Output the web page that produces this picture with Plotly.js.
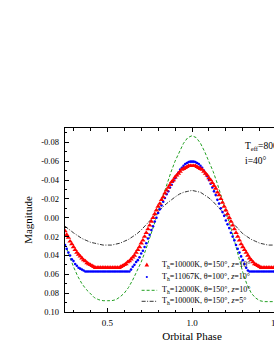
<!DOCTYPE html>
<html><head><meta charset="utf-8">
<script src="https://cdn.plot.ly/plotly-3.0.1.min.js"></script>
<style>html,body{margin:0;padding:0;overflow:hidden;background:#fff;}#c{width:330px;height:354px;}</style>
</head><body><div id="c"></div>
<script>
// ---- data ----
const phaseDense = [0.25,0.26,0.27,0.28,0.29,0.30,0.31,0.32,0.33,0.34,0.35,0.36,0.37,0.38,0.39,0.40,0.41,0.42,0.43,0.44,0.45,0.46,0.47,0.48,0.49,0.50,0.51,0.52,0.53,0.54,0.55,0.56,0.57,0.58,0.59,0.60,0.61,0.62,0.63,0.64,0.65,0.66,0.67,0.68,0.69,0.70,0.71,0.72,0.73,0.74,0.75,0.76,0.77,0.78,0.79,0.80,0.81,0.82,0.83,0.84,0.85,0.86,0.87,0.88,0.89,0.90,0.91,0.92,0.93,0.94,0.95,0.96,0.97,0.98,0.99,1.00,1.01,1.02,1.03,1.04,1.05,1.06,1.07,1.08,1.09,1.10,1.11,1.12,1.13,1.14,1.15,1.16,1.17,1.18,1.19,1.20,1.21,1.22,1.23,1.24,1.25,1.26,1.27,1.28,1.29,1.30,1.31,1.32,1.33,1.34,1.35,1.36,1.37,1.38,1.39,1.40,1.41,1.42,1.43,1.44,1.45,1.46,1.47,1.48,1.49,1.50];
const magRed = [0.014,0.018,0.021,0.025,0.028,0.031,0.034,0.037,0.039,0.041,
0.043,0.045,0.046,0.048,0.049,0.050,0.051,0.052,0.053,0.053,
0.053,0.053,0.053,0.053,0.053,0.053,0.053,0.053,0.053,0.053,
0.053,0.053,0.053,0.052,0.051,0.050,0.049,0.047,0.046,0.044,
0.042,0.040,0.037,0.034,0.031,0.027,0.024,0.020,0.016,0.012,
0.008,0.004,0.000,-0.004,-0.008,-0.012,-0.015,-0.019,-0.022,-0.026,
-0.029,-0.032,-0.035,-0.038,-0.040,-0.043,-0.045,-0.047,-0.049,-0.051,
-0.052,-0.053,-0.054,-0.055,-0.055,-0.055,-0.055,-0.055,-0.054,-0.053,
-0.052,-0.051,-0.049,-0.047,-0.045,-0.042,-0.040,-0.037,-0.034,-0.031,
-0.027,-0.024,-0.020,-0.016,-0.012,-0.008,-0.004,0.000,0.004,0.008,
0.012,0.016,0.020,0.024,0.028,0.031,0.034,0.037,0.040,0.043,
0.045,0.047,0.049,0.050,0.051,0.052,0.053,0.053,0.053,0.053,
0.053,0.053,0.053,0.053,0.053,0.053];
const magBlue = [0.029,0.033,0.037,0.040,0.044,0.046,0.049,0.051,0.053,0.054,
0.055,0.056,0.057,0.057,0.057,0.057,0.057,0.057,0.057,0.057,
0.057,0.057,0.057,0.057,0.057,0.057,0.057,0.057,0.057,0.057,
0.057,0.057,0.057,0.057,0.057,0.057,0.057,0.057,0.057,0.055,
0.052,0.050,0.047,0.045,0.042,0.038,0.035,0.031,0.027,0.022,
0.018,0.013,0.009,0.004,0.000,-0.005,-0.009,-0.013,-0.017,-0.021,
-0.025,-0.028,-0.032,-0.035,-0.039,-0.042,-0.045,-0.048,-0.051,-0.053,
-0.055,-0.057,-0.058,-0.059,-0.0595,-0.0595,-0.0595,-0.059,-0.058,-0.057,
-0.055,-0.053,-0.050,-0.047,-0.044,-0.040,-0.036,-0.032,-0.028,-0.024,
-0.019,-0.015,-0.010,-0.006,-0.002,0.003,0.007,0.011,0.016,0.020,
0.024,0.029,0.033,0.037,0.041,0.045,0.049,0.053,0.056,0.057,
0.057,0.057,0.057,0.057,0.057,0.057,0.057,0.057,0.057,0.057,
0.057,0.057,0.057,0.057,0.057,0.057];
const phaseLine = [0.25,0.275,0.30,0.325,0.35,0.375,0.40,0.425,0.45,0.475,0.50,0.525,0.55,0.575,0.60,0.625,0.65,0.675,0.70,0.725,0.75,0.775,0.80,0.825,0.85,0.875,0.90,0.925,0.95,0.975,1.00,1.025,1.05,1.075,1.10,1.125,1.15,1.175,1.20,1.225,1.25,1.275,1.30,1.325,1.35,1.375,1.40,1.425,1.45,1.475,1.50];
const magGreen = [0.028,0.041,0.052,0.062,0.070,0.076,0.081,0.085,0.087,0.088,
0.088,0.088,0.087,0.084,0.080,0.074,0.066,0.057,0.047,0.035,
0.022,0.008,-0.007,-0.021,-0.035,-0.048,-0.060,-0.070,-0.079,-0.085,
-0.087,-0.085,-0.079,-0.070,-0.060,-0.049,-0.036,-0.022,-0.007,0.008,
0.024,0.042,0.058,0.071,0.080,0.085,0.088,0.089,0.089,0.089,
0.089];
const magBlack = [0.009,0.013,0.016,0.019,0.022,0.024,0.026,0.027,0.028,0.029,
0.029,0.029,0.028,0.027,0.025,0.023,0.020,0.017,0.013,0.008,
0.003,-0.002,-0.006,-0.011,-0.015,-0.019,-0.022,-0.025,-0.027,-0.028,
-0.029,-0.028,-0.027,-0.024,-0.021,-0.017,-0.012,-0.007,-0.002,0.003,
0.008,0.013,0.017,0.020,0.023,0.025,0.027,0.028,0.029,0.029,
0.029];
const seriesNames = [
  "T<sub>h</sub>=10000K, θ=150°, <i>z</i>=10°",
  "T<sub>h</sub>=11067K, θ=100°, <i>z</i>=10°",
  "T<sub>h</sub>=12000K, θ=150°, <i>z</i>=10°",
  "T<sub>h</sub>=10000K, θ=150°, <i>z</i>=5°"
];
const xTickVals = [0.5, 1.0, 1.5];
const xTickText = ["0.5", "1.0", "1.5"];
const yTickVals = [-0.08,-0.06,-0.04,-0.02,0,0.02,0.04,0.06,0.08,0.10];
const yTickText = ["-0.08","-0.06","-0.04","-0.02","0.00","0.02","0.04","0.06","0.08","0.10"];
const noteLines = ["T<sub>eff</sub>=8000K", "i=40°"];

// ---- chart ----
const F = "Liberation Serif, Times New Roman, serif";
const GREEN = "#22a022";
const traces = [
  {x: phaseLine, y: magGreen, mode: "lines", name: seriesNames[2],
   line: {color: GREEN, width: 1, dash: "3px,2px"}},
  {x: phaseLine, y: magBlack, mode: "lines", name: seriesNames[3],
   line: {color: "#000000", width: 0.8, dash: "4px,1.5px,1px,1.5px"}},
  {x: phaseDense, y: magBlue, mode: "markers", name: seriesNames[1],
   marker: {symbol: "circle", size: 2.6, color: "#0000ff"}},
  {x: phaseDense, y: magRed, mode: "markers", name: seriesNames[0],
   marker: {symbol: "triangle-up", size: 4.8, color: "#ff0000"}}
];

const L = 65, R = 318.6, T = 128, B = 312;
const px = v => (v - L) / (R - L);
const py = v => (B - v) / (B - T);

const legRows = [264.7, 277, 290.3, 301.3];
const annotations = [];
const shapes = [];
const legendStyles = [
  {kind: "tri", color: "#ff0000"},
  {kind: "dot", color: "#0000ff"},
  {kind: "line", color: GREEN, dash: "3px,2px", width: 1},
  {kind: "line", color: "#000000", dash: "4px,1.5px,1px,1.5px", width: 0.8}
];
legRows.forEach((ry, i) => {
  annotations.push({xref: "paper", yref: "paper", x: px(160), y: py(ry), xanchor: "left", yanchor: "middle",
    text: seriesNames[i], showarrow: false, font: {family: F, size: 8, color: "#000"}});
  const st = legendStyles[i];
  if (st.kind === "line") {
    shapes.push({type: "line", xref: "paper", yref: "paper", x0: px(141.5), x1: px(157), y0: py(ry), y1: py(ry),
      line: {color: st.color, width: st.width, dash: st.dash}});
  } else if (st.kind === "tri") {
    shapes.push({type: "path", xref: "paper", yref: "paper",
      path: `M${px(144.4)},${py(ry + 1.9)} L${px(149)},${py(ry + 1.9)} L${px(146.7)},${py(ry - 2.1)} Z`,
      fillcolor: st.color, line: {width: 0}});
  } else {
    shapes.push({type: "circle", xref: "paper", yref: "paper", x0: px(145.6), x1: px(147.8), y0: py(ry + 1.1), y1: py(ry - 1.1),
      fillcolor: st.color, line: {width: 0}});
  }
});
annotations.push({xref: "paper", yref: "paper", x: px(243), y: py(146), xanchor: "left", yanchor: "middle",
  text: noteLines[0], showarrow: false, font: {family: F, size: 9.5, color: "#000"}});
annotations.push({xref: "paper", yref: "paper", x: px(243), y: py(161), xanchor: "left", yanchor: "middle",
  text: noteLines[1], showarrow: false, font: {family: F, size: 9.5, color: "#000"}});

const layout = {
  width: 330, height: 354,
  margin: {l: L, r: 330 - R, t: T, b: 354 - B, pad: 0},
  paper_bgcolor: "#fff", plot_bgcolor: "#fff",
  showlegend: false,
  font: {family: F, color: "#000"},
  xaxis: {
    range: [0.25, 1.75], tickvals: xTickVals, ticktext: xTickText,
    ticks: "inside", ticklen: 4, tickwidth: 1, tickcolor: "#000",
    minor: {ticks: "inside", tickmode: "linear", tick0: 0, dtick: 0.1, ticklen: 2.5, tickwidth: 1, tickcolor: "#000"},
    showline: true, linewidth: 1.3, linecolor: "#000", mirror: "ticks",
    showgrid: false, zeroline: false,
    tickfont: {family: F, size: 9}, ticklabelstandoff: 2,
    title: {text: "Orbital Phase", font: {family: F, size: 11}, standoff: 5}
  },
  yaxis: {
    range: [0.10, -0.0952], tickvals: yTickVals, ticktext: yTickText,
    ticks: "inside", ticklen: 3.5, tickwidth: 1, tickcolor: "#000",
    minor: {ticks: "inside", tickmode: "linear", tick0: 0, dtick: 0.01, ticklen: 2, tickwidth: 1, tickcolor: "#000"},
    showline: true, linewidth: 1.3, linecolor: "#000", mirror: "ticks",
    showgrid: false, zeroline: false,
    tickfont: {family: F, size: 8.5}, ticklabelstandoff: 3,
    title: {text: "Magnitude", font: {family: F, size: 11}, standoff: 6}
  },
  annotations: annotations,
  shapes: shapes
};
Plotly.newPlot("c", traces, layout, {staticPlot: true, displayModeBar: false});
</script></body></html>
